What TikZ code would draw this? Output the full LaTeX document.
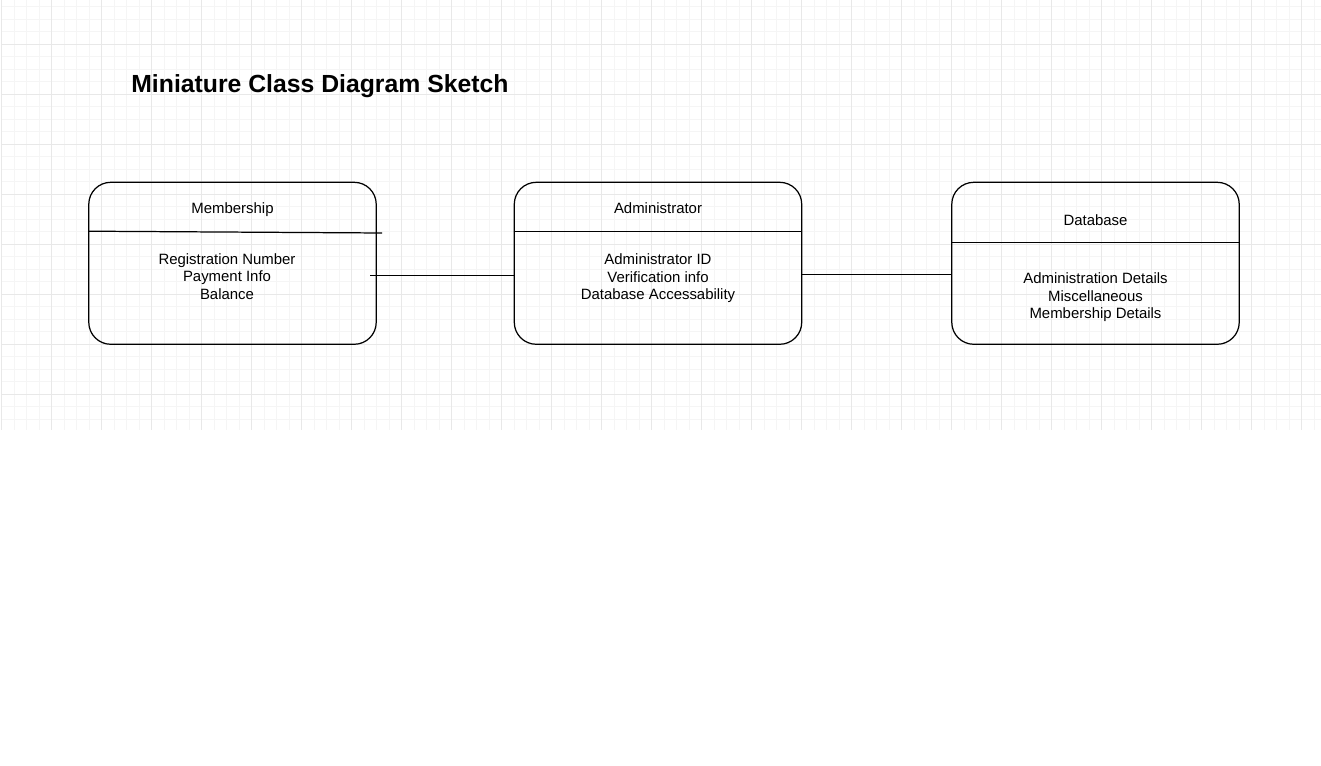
\documentclass[tikz,border=0pt]{standalone}
\usepackage{fontspec}
\setmainfont{Liberation Sans}

\begin{document}
\begin{tikzpicture}
[x=0.02cm,y=-0.02cm]
\tikzset{classbox/.style={draw,rounded corners=0.44cm,minimum width=5.75cm,minimum height=3.24cm,line width=0.7pt}}
\tikzset{classtext/.style={align=center,inner sep=0pt,font=\fontsize{8.5}{9.9}\selectfont}}
\tikzset{minorline/.style={draw=black!4,line width=0.5pt}}
\tikzset{majorline/.style={draw=black!9,line width=0.6pt}}
\useasboundingbox (0,0) rectangle (1321,766);
\fill[white] (0,0) rectangle (1321,766);

% grid
\foreach \x in {1.7,14.2,...,1321}
	\draw[minorline] (\x,0) -- (\x,430);
\foreach \y in {6.8,19.3,...,430}
	\draw[minorline] (1.7,\y) -- (1321,\y);
\foreach \x in {1.7,51.7,...,1321}
	\draw[majorline] (\x,0) -- (\x,430);
\foreach \y in {44.3,94.3,...,430}
	\draw[majorline] (1.7,\y) -- (1321,\y);

\node [anchor=base west,inner sep=0pt,font=\bfseries\fontsize{14.1}{16}\selectfont] (title) at (131,92.5) {Miniature Class Diagram Sketch};

\node [classbox] (memb) at (232.5,263.3) {};
\node [classbox] (admin) at (658,263.3) {};
\node [classbox] (db) at (1095.5,263.3) {};

\draw [line width=0.7pt] (memb.north west) ++(0,49.5) -- ++(294,1.8);
\draw [line width=0.7pt] (admin.north west) ++(0,49.5) -- ++(287.5,0);
\draw [line width=0.7pt] (db.north west) ++(0,61) -- ++(287.5,0);

\node [classtext] (membname) at (232.5,210) {Membership};
\node [classtext] (membattr) at (227,276.5) {Registration Number\\Payment Info\\Balance};
\node [classtext] (adminname) at (658,208.5) {Administrator};
\node [classtext] (adminattr) at (658,278.3) {Administrator ID\\Verification info\\Database Accessability};
\node [classtext] (dbname) at (1095.5,220) {Database};
\node [classtext] (dbattr) at (1095.5,297.3) {Administration Details\\Miscellaneous\\Membership Details};

\coordinate (membport) at (370,275.5);
\coordinate (adminport) at (801.7,274.8);
\draw [line width=0.7pt] (membport) -- (membport -| admin.west);
\draw [line width=0.7pt] (adminport) -- (adminport -| db.west);

\end{tikzpicture}
\end{document}
